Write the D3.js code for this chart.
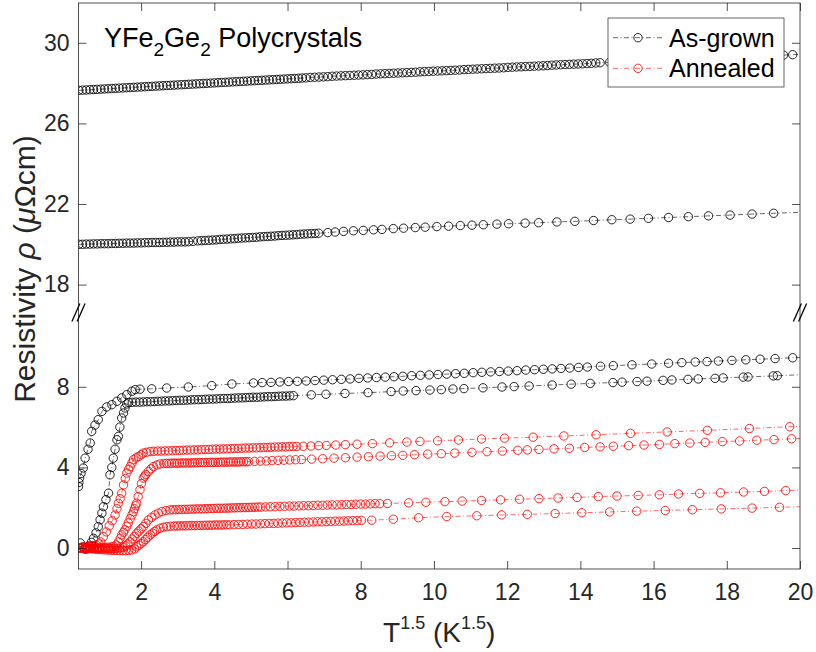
<!DOCTYPE html>
<html>
<head>
<meta charset="utf-8">
<script src="https://cdn.jsdelivr.net/npm/d3@7"></script>
<style>
  body { margin: 0; background: #fff; }
  svg { font-family: "Liberation Sans", Arial, Helvetica, sans-serif; }
</style>
</head>
<body>
<script>
//----------------- Data (x = T^1.5, y = resistivity) -----------------

const xTicks = [2, 4, 6, 8, 10, 12, 14, 16, 18, 20];
const yTicksLow = [0, 4, 8];
const yTicksHigh = [18, 22, 26, 30];

// as-grown, upper part of the broken axis
const asGrownTop = [
  [0.3,27.64],[0.4,27.65],[0.5,27.66],[0.6,27.67],[0.7,27.68],[0.8,27.69],[0.9,27.70],[1.0,27.71],[1.1,27.72],[1.2,27.73],
  [1.3,27.74],[1.4,27.75],[1.5,27.76],[1.6,27.77],[1.7,27.78],[1.8,27.79],[1.9,27.80],[2.0,27.81],[2.1,27.82],[2.2,27.83],
  [2.3,27.84],[2.4,27.85],[2.5,27.86],[2.6,27.87],[2.7,27.88],[2.8,27.89],[2.9,27.90],[3.0,27.91],[3.1,27.92],[3.2,27.93],
  [3.3,27.94],[3.4,27.95],[3.5,27.96],[3.6,27.97],[3.7,27.98],[3.8,27.99],[3.9,28.00],[4.0,28.01],[4.1,28.02],[4.2,28.03],
  [4.3,28.04],[4.4,28.05],[4.5,28.06],[4.6,28.07],[4.7,28.08],[4.8,28.09],[4.9,28.10],[5.0,28.11],[5.1,28.12],[5.2,28.13],
  [5.3,28.14],[5.4,28.15],[5.5,28.16],[5.6,28.17],[5.7,28.18],[5.8,28.19],[5.9,28.20],[6.0,28.21],[6.1,28.22],[6.2,28.23],
  [6.3,28.24],[6.4,28.25],[6.5,28.26],
  [6.62,28.28],[6.74,28.29],[6.86,28.30],[6.98,28.31],[7.10,28.32],[7.22,28.34],[7.34,28.35],[7.46,28.36],[7.58,28.37],[7.70,28.38],
  [7.82,28.39],[7.94,28.40],[8.06,28.41],[8.18,28.42],[8.30,28.43],[8.42,28.45],[8.54,28.46],[8.66,28.47],[8.78,28.48],[8.90,28.49],
  [9.02,28.50],[9.14,28.51],[9.26,28.52],[9.38,28.53],[9.50,28.54],[9.62,28.56],[9.74,28.57],[9.86,28.58],[9.98,28.59],[10.10,28.60],
  [10.22,28.61],[10.34,28.62],[10.46,28.63],[10.58,28.64],[10.70,28.65],[10.82,28.67],[10.94,28.68],[11.06,28.69],[11.18,28.70],[11.30,28.71],
  [11.42,28.72],[11.54,28.73],[11.66,28.74],[11.78,28.75],[11.90,28.76],[12.02,28.78],[12.14,28.79],[12.26,28.80],[12.38,28.81],[12.50,28.82],
  [12.62,28.83],[12.74,28.84],[12.86,28.85],[12.98,28.86],[13.10,28.87],[13.22,28.89],[13.34,28.90],[13.46,28.91],[13.58,28.92],[13.70,28.93],
  [13.82,28.94],[13.94,28.95],[14.06,28.96],[14.18,28.97],[14.30,28.98],[14.42,29.00],[14.54,29.01],
  [14.8,29.03],[15.3,29.07],[15.8,29.11],[16.3,29.15],[16.8,29.18],[17.3,29.22],[17.8,29.26],[18.3,29.30],[18.8,29.33],[19.3,29.37],
  [19.55,29.39],[19.8,29.41],[20.4,29.45]
];

const asGrownUpper = [
  [0.3,20.00],[0.4,20.00],[0.5,20.01],[0.6,20.01],[0.7,20.02],[0.8,20.02],[0.9,20.03],[1.0,20.03],[1.1,20.03],[1.2,20.04],
  [1.3,20.04],[1.4,20.05],[1.5,20.05],[1.6,20.06],[1.7,20.06],[1.8,20.06],[1.9,20.07],[2.0,20.07],[2.1,20.08],[2.2,20.08],
  [2.3,20.09],[2.4,20.09],[2.5,20.09],[2.6,20.10],[2.7,20.10],[2.8,20.11],[2.9,20.11],[3.0,20.12],[3.1,20.12],[3.2,20.12],
  [3.3,20.13],[3.42,20.15],[3.55,20.17],
  [3.65,20.18],[3.75,20.19],[3.85,20.20],[3.95,20.21],[4.05,20.22],[4.15,20.24],[4.25,20.25],[4.35,20.26],[4.45,20.27],[4.55,20.28],
  [4.65,20.30],[4.75,20.31],[4.85,20.32],[4.95,20.33],[5.05,20.34],[5.15,20.35],[5.25,20.37],[5.35,20.38],[5.45,20.39],[5.55,20.40],
  [5.65,20.41],[5.75,20.43],[5.85,20.44],[5.95,20.45],[6.05,20.46],[6.15,20.47],[6.25,20.48],[6.35,20.50],[6.45,20.51],[6.55,20.52],
  [6.65,20.53],[6.75,20.54],[6.85,20.55],
  [7.1,20.58],[7.3,20.61],[7.53,20.64],[7.80,20.67],[8.07,20.69],[8.35,20.72],[8.58,20.74],[8.89,20.78],[9.17,20.80],[9.49,20.83],
  [9.76,20.85],[10.08,20.88],[10.40,20.90],[10.72,20.93],[11.04,20.95],[11.35,20.97],[11.72,21.00],[12.04,21.02],[12.49,21.05],[12.86,21.07],
  [13.36,21.11],[13.85,21.14],[14.36,21.18],[14.86,21.22],[15.36,21.25],[15.86,21.29],[16.41,21.33],[16.95,21.37],[17.50,21.41],[18.09,21.45],
  [18.69,21.50],[19.28,21.54],[20.5,21.62]
];

// as-grown, lower part of the broken axis
const asGrownLowA = [
  [0.29,3.05],[0.30,3.25],[0.32,3.47],[0.36,3.70],[0.42,3.97],[0.47,4.46],[0.55,4.90],[0.61,5.21],[0.65,5.79],[0.74,6.10],
  [0.83,6.37],[0.93,6.78],[1.06,7.00],[1.20,7.11],[1.34,7.28],[1.47,7.45],[1.61,7.61],[1.75,7.78],[1.84,7.86],[1.97,7.88],
  [2.29,7.90],[2.70,7.94],[3.29,7.99],[3.93,8.06],[4.48,8.14],
  [5.07,8.19],[5.31,8.21],[5.55,8.22],[5.79,8.24],[6.03,8.26],[6.27,8.27],[6.51,8.29],[6.75,8.31],[6.99,8.33],[7.23,8.35],
  [7.47,8.37],[7.71,8.39],[7.95,8.42],[8.19,8.44],[8.43,8.46],[8.67,8.48],[8.91,8.50],[9.15,8.52],[9.39,8.55],[9.63,8.57],
  [9.87,8.59],[10.11,8.61],[10.35,8.63],[10.59,8.65],[10.83,8.67],[11.07,8.70],[11.31,8.72],[11.55,8.74],[11.79,8.76],[12.03,8.78],
  [12.27,8.80],[12.51,8.83],[12.75,8.85],[12.99,8.87],[13.23,8.89],[13.47,8.91],[13.71,8.93],[13.95,8.96],[14.19,8.98],
  [14.55,9.02],[14.9,9.05],[15.41,9.09],[15.95,9.13],[16.41,9.17],[16.77,9.20],[17.14,9.23],[17.46,9.25],[17.77,9.28],[18.14,9.31],
  [18.52,9.34],[18.91,9.37],[19.32,9.40],[19.8,9.44],[20.3,9.48]
];

const asGrownLowB = [
  [0.34,0.25],[0.40,0.05],[0.46,-0.05],[0.52,-0.05],[0.58,0.10],[0.64,0.28],[0.70,0.48],[0.77,0.75],[0.83,1.06],[0.88,1.40],
  [0.93,1.73],[0.97,2.05],[1.04,2.40],[1.11,2.72],[1.15,3.63],[1.20,4.00],[1.24,4.46],[1.29,4.90],[1.34,5.37],[1.38,5.54],
  [1.42,6.00],[1.47,6.45],[1.52,6.70],[1.56,6.95],[1.61,7.15],
  [1.66,7.22],[1.76,7.23],[1.86,7.24],[1.96,7.24],[2.06,7.25],[2.16,7.26],[2.26,7.26],[2.36,7.27],[2.46,7.28],[2.56,7.29],
  [2.66,7.30],[2.76,7.30],[2.86,7.31],[2.96,7.32],[3.06,7.33],[3.16,7.33],[3.26,7.34],[3.36,7.35],[3.46,7.36],[3.56,7.36],
  [3.66,7.37],[3.76,7.38],[3.86,7.39],[3.96,7.39],[4.06,7.40],[4.16,7.41],[4.26,7.42],[4.36,7.42],[4.46,7.43],[4.56,7.44],
  [4.66,7.45],[4.76,7.45],[4.86,7.46],[4.96,7.47],[5.06,7.48],[5.16,7.48],[5.26,7.49],[5.36,7.50],[5.46,7.51],[5.56,7.51],
  [5.66,7.52],[5.76,7.53],[5.86,7.54],[5.96,7.54],[6.06,7.55],[6.16,7.56],
  [6.65,7.60],[7.05,7.63],[7.57,7.67],[8.2,7.71],[8.83,7.76],[9.16,7.79],[9.51,7.81],[9.89,7.84],[10.2,7.86],[10.52,7.89],
  [10.82,7.91],[11.34,7.95],[11.86,7.99],[12.19,8.01],[12.6,8.04],[13.23,8.09],[13.75,8.13],[14.27,8.17],[14.89,8.21],[15.14,8.23],
  [15.55,8.26],[15.82,8.28],[16.26,8.32],[16.5,8.34],[16.94,8.37],[17.22,8.39],[17.68,8.42],[17.9,8.44],[18.45,8.48],[18.58,8.49],
  [19.27,8.54],[19.38,8.55],[20.4,8.63]
];

// annealed
const annealedA = [
  [0.30,0.02],[0.36,0.03],[0.42,0.04],[0.48,0.05],[0.54,0.06],[0.60,0.08],[0.66,0.10],[0.72,0.12],[0.78,0.15],[0.84,0.20],
  [0.90,0.30],[0.97,0.56],[1.05,0.80],[1.13,1.10],[1.21,1.35],[1.29,1.64],[1.34,1.95],[1.38,2.22],[1.43,2.45],[1.47,2.72],
  [1.52,3.13],[1.57,3.45],[1.61,3.72],[1.66,3.90],[1.70,4.04],[1.75,4.22],[1.79,4.38],[1.86,4.47],[1.93,4.54],[2.00,4.63],
  [2.06,4.71],[2.15,4.75],[2.25,4.79],
  [2.35,4.80],[2.45,4.81],[2.55,4.81],[2.65,4.82],[2.75,4.82],[2.85,4.83],[2.95,4.84],[3.05,4.84],[3.15,4.85],[3.25,4.86],
  [3.35,4.86],[3.45,4.87],[3.55,4.87],[3.65,4.88],[3.75,4.89],[3.85,4.89],[3.95,4.90],[4.05,4.91],[4.15,4.91],[4.25,4.92],
  [4.35,4.92],[4.45,4.93],[4.55,4.94],[4.65,4.94],[4.75,4.95],[4.85,4.96],[4.95,4.96],[5.05,4.97],[5.15,4.97],[5.25,4.98],
  [5.35,4.99],[5.45,4.99],[5.55,5.00],[5.65,5.01],[5.75,5.01],[5.85,5.02],[5.95,5.02],[6.05,5.03],[6.15,5.04],[6.25,5.04],
  [6.43,5.05],[6.64,5.06],[6.85,5.08],[7.06,5.09],[7.32,5.11],[7.58,5.13],[7.9,5.15],[8.32,5.18],[8.79,5.22],[9.26,5.26],
  [9.62,5.29],[10.1,5.32],[10.67,5.36],[11.3,5.41],[11.93,5.45],[12.71,5.50],[13.55,5.56],[14.43,5.62],[15.37,5.69],[16.37,5.76],
  [17.47,5.84],[18.62,5.93],[19.72,6.02],[20.8,6.10]
];

const annealedB = [
  [0.30,0.00],[0.38,0.00],[0.46,0.01],[0.54,0.01],[0.62,0.01],[0.70,0.02],[0.78,0.02],[0.86,0.02],[0.94,0.03],[1.02,0.03],
  [1.10,0.04],[1.18,0.05],[1.25,0.08],[1.32,0.15],[1.38,0.30],[1.43,0.48],[1.47,0.65],[1.52,0.78],[1.56,0.90],[1.61,1.08],
  [1.65,1.25],[1.70,1.45],[1.75,1.64],[1.79,1.80],[1.82,1.95],[1.85,2.10],[1.88,2.22],[1.92,2.55],[1.97,2.89],[2.01,3.20],
  [2.06,3.47],[2.10,3.57],[2.13,3.65],[2.20,3.80],[2.27,3.93],[2.34,4.04],[2.43,4.12],[2.52,4.17],[2.62,4.19],
  [2.70,4.20],[2.77,4.20],[2.84,4.21],[2.91,4.21],[2.98,4.21],[3.05,4.21],[3.12,4.22],[3.19,4.22],[3.26,4.22],[3.33,4.22],
  [3.40,4.23],[3.47,4.23],[3.54,4.23],[3.61,4.24],[3.68,4.24],[3.75,4.24],[3.82,4.24],[3.89,4.25],[3.96,4.25],[4.03,4.25],
  [4.10,4.25],[4.17,4.26],[4.24,4.26],[4.31,4.26],[4.38,4.26],[4.45,4.27],[4.52,4.27],[4.59,4.27],[4.66,4.27],[4.73,4.28],
  [4.80,4.28],[4.87,4.28],[4.94,4.29],
  [5.10,4.30],[5.26,4.31],[5.42,4.32],[5.58,4.34],[5.74,4.35],[5.90,4.36],[6.06,4.37],[6.22,4.38],
  [6.38,4.39],[6.66,4.41],[6.96,4.43],[7.27,4.46],[7.58,4.48],[7.9,4.51],[8.21,4.53],[8.53,4.56],[8.84,4.58],[9.15,4.60],
  [9.47,4.63],[9.83,4.66],[10.2,4.68],[10.57,4.71],[11.04,4.75],[11.45,4.78],[11.87,4.81],[12.29,4.85],[12.55,4.87],[12.87,4.89],
  [13.28,4.92],[13.7,4.95],[14.12,4.99],[14.54,5.02],[14.9,5.05],[15.32,5.08],[15.74,5.11],[16.16,5.14],[16.58,5.18],[16.99,5.21],
  [17.41,5.24],[17.88,5.28],[18.35,5.31],[18.82,5.35],[19.29,5.38],[19.77,5.42],[20.3,5.46]
];

const annealedC = [
  [0.30,0.00],[0.38,-0.01],[0.46,-0.01],[0.54,-0.02],[0.62,-0.02],[0.70,-0.02],[0.78,-0.03],[0.86,-0.03],[0.94,-0.03],[1.02,-0.03],
  [1.10,-0.03],[1.18,-0.03],[1.26,-0.02],[1.34,-0.01],[1.42,0.00],[1.50,0.04],[1.58,0.10],[1.64,0.20],[1.70,0.31],[1.76,0.45],
  [1.82,0.58],[1.88,0.73],[1.94,0.84],[2.00,0.95],[2.06,1.06],[2.13,1.22],[2.20,1.39],[2.29,1.52],[2.38,1.64],[2.47,1.73],
  [2.57,1.81],[2.68,1.86],[2.79,1.89],
  [2.87,1.90],[2.95,1.90],[3.03,1.91],[3.11,1.91],[3.19,1.92],[3.27,1.92],[3.35,1.93],[3.43,1.93],[3.51,1.94],[3.59,1.94],
  [3.67,1.94],[3.75,1.95],[3.83,1.95],[3.91,1.96],[3.99,1.96],[4.07,1.97],[4.15,1.97],[4.23,1.97],[4.31,1.98],[4.39,1.98],
  [4.47,1.99],[4.55,1.99],[4.63,2.00],[4.71,2.00],[4.79,2.01],[4.87,2.01],[4.95,2.01],[5.03,2.02],[5.11,2.02],[5.19,2.03],[5.27,2.03],
  [5.40,2.04],[5.53,2.05],[5.66,2.05],[5.79,2.06],[5.92,2.07],[6.05,2.08],[6.18,2.08],[6.31,2.09],[6.44,2.10],[6.57,2.10],
  [6.70,2.11],[6.83,2.12],[6.96,2.12],[7.09,2.13],[7.22,2.14],[7.35,2.14],[7.48,2.15],[7.61,2.16],[7.74,2.16],[7.87,2.17],
  [8.00,2.18],[8.13,2.18],[8.26,2.19],[8.39,2.20],[8.52,2.20],
  [8.73,2.21],[9.31,2.24],[9.78,2.27],[10.3,2.30],[10.77,2.33],[11.3,2.36],[11.82,2.39],[12.34,2.42],[12.87,2.45],[13.39,2.48],
  [13.91,2.51],[14.49,2.55],[15.0,2.58],[15.58,2.61],[16.16,2.64],[16.68,2.68],[17.26,2.71],[17.83,2.74],[18.46,2.78],[19.03,2.81],
  [19.61,2.85],[20.2,2.88]
];

const annealedD = [
  [0.30,0.00],[0.38,-0.01],[0.46,-0.02],[0.54,-0.03],[0.62,-0.04],[0.70,-0.05],[0.78,-0.06],[0.86,-0.07],[0.94,-0.08],[1.02,-0.09],
  [1.10,-0.10],[1.18,-0.11],[1.26,-0.12],[1.34,-0.12],[1.42,-0.13],[1.50,-0.13],[1.58,-0.13],[1.66,-0.12],[1.74,-0.10],[1.82,-0.05],
  [1.88,0.06],[1.94,0.14],[2.00,0.22],[2.06,0.31],[2.12,0.42],[2.18,0.53],[2.25,0.65],[2.31,0.74],[2.37,0.82],[2.43,0.90],
  [2.52,0.98],[2.61,1.03],[2.70,1.06],[2.80,1.08],
  [2.90,1.09],[2.98,1.09],[3.06,1.10],[3.14,1.10],[3.22,1.10],[3.30,1.11],[3.38,1.11],[3.46,1.11],[3.54,1.12],[3.62,1.12],
  [3.70,1.12],[3.78,1.13],[3.86,1.13],[3.94,1.13],[4.02,1.14],[4.10,1.14],[4.18,1.14],[4.26,1.15],[4.34,1.15],[4.42,1.15],
  [4.54,1.16],[4.66,1.17],[4.78,1.17],[4.90,1.18],[5.02,1.19],[5.14,1.19],[5.26,1.20],[5.38,1.21],[5.50,1.22],[5.62,1.22],
  [5.74,1.23],[5.86,1.24],[5.98,1.25],[6.10,1.25],[6.22,1.26],[6.34,1.27],[6.46,1.28],[6.58,1.28],[6.70,1.29],[6.82,1.30],
  [6.94,1.30],[7.06,1.31],[7.18,1.32],[7.30,1.33],[7.42,1.33],[7.54,1.34],[7.66,1.35],[7.78,1.36],[7.90,1.36],[8.02,1.37],
  [8.3,1.38],[8.89,1.43],[9.58,1.50],[10.35,1.56],[11.17,1.60],[11.85,1.64],[12.55,1.67],[13.31,1.71],[14.04,1.75],[14.8,1.79],
  [15.54,1.83],[16.32,1.86],[17.06,1.90],[17.85,1.94],[18.69,1.98],[19.44,2.02],[20.2,2.06]
];

const legendLabels = ["As-grown", "Annealed"];

//----------------- Layout -----------------

const width = 816;
const height = 652;
const plot = { left: 78.5, right: 800, top: 3, bottom: 569 };

const svg = d3.select("body").append("svg").attr("width", width).attr("height", height);

const x = d3.scaleLinear().domain([0.29, 20]).range([plot.left, plot.right]);
// broken y axis: two scales with the same pixels per unit
const yLow = d3.scaleLinear().domain([0, 8]).range([548, 386.8]);
const yHigh = d3.scaleLinear().domain([18, 30]).range([284.6, 42.8]);

const series = [
  { data: asGrownTop, color: "#000", y: yHigh },
  { data: asGrownUpper, color: "#000", y: yHigh },
  { data: asGrownLowA, color: "#000", y: yLow },
  { data: asGrownLowB, color: "#000", y: yLow },
  { data: annealedA, color: "#ff0000", y: yLow },
  { data: annealedB, color: "#ff0000", y: yLow },
  { data: annealedC, color: "#ff0000", y: yLow },
  { data: annealedD, color: "#ff0000", y: yLow }
];

svg.append("clipPath").attr("id", "plot-clip")
  .append("rect")
  .attr("x", plot.left).attr("y", plot.top)
  .attr("width", plot.right - plot.left).attr("height", plot.bottom - plot.top);

//----------------- Series -----------------

const dashDot = "5,2.5,1,2.5";
const dataLayer = svg.append("g").attr("clip-path", "url(#plot-clip)");

series.forEach((s) => {
  const line = d3.line().x((d) => x(d[0])).y((d) => s.y(d[1]));
  const g = dataLayer.append("g");
  g.append("path")
    .attr("d", line(s.data))
    .attr("fill", "none")
    .attr("stroke", s.color)
    .attr("stroke-width", 0.6)
    .attr("stroke-dasharray", dashDot);
  g.selectAll("circle")
    .data(s.data)
    .enter()
    .append("circle")
    .attr("cx", (d) => x(d[0]))
    .attr("cy", (d) => s.y(d[1]))
    .attr("r", 4.2)
    .attr("fill", "none")
    .attr("stroke", s.color)
    .attr("stroke-width", 0.85);
});

//----------------- Axes -----------------

const axisColor = "#262626";

svg.append("g")
  .attr("transform", `translate(0,${plot.bottom})`)
  .call(d3.axisBottom(x).tickValues(xTicks).tickSize(-8).tickPadding(15).tickFormat(d3.format("d")));
svg.append("g")
  .attr("transform", `translate(0,${plot.top})`)
  .call(d3.axisTop(x).tickValues(xTicks).tickSize(-8).tickFormat(""));

[yLow, yHigh].forEach((sc, i) => {
  const ticks = i === 0 ? yTicksLow : yTicksHigh;
  svg.append("g")
    .attr("transform", `translate(${plot.left},0)`)
    .call(d3.axisLeft(sc).tickValues(ticks).tickSize(-8).tickPadding(9));
  svg.append("g")
    .attr("transform", `translate(${plot.right},0)`)
    .call(d3.axisRight(sc).tickValues(ticks).tickSize(-8).tickFormat(""));
});

svg.selectAll(".domain").remove();
svg.selectAll(".tick line").attr("stroke", axisColor).attr("stroke-width", 0.8);
svg.selectAll(".tick text").attr("fill", axisColor).style("font-size", "23px");

svg.append("rect")
  .attr("x", plot.left).attr("y", plot.top)
  .attr("width", plot.right - plot.left).attr("height", plot.bottom - plot.top)
  .attr("fill", "none").attr("stroke", axisColor).attr("stroke-width", 0.8);

// break marks on both y axes
const breakY = 312.5;
[plot.left, plot.right].forEach((ax) => {
  [-2.6, 2.6].forEach((off) => {
    svg.append("line")
      .attr("x1", ax + off - 4).attr("y1", breakY + 9)
      .attr("x2", ax + off + 4).attr("y2", breakY - 9)
      .attr("stroke", "#000").attr("stroke-width", 1.3);
  });
});

//----------------- Labels -----------------

const xLabel = svg.append("text")
  .attr("x", (plot.left + plot.right) / 2)
  .attr("y", 642)
  .attr("text-anchor", "middle")
  .attr("fill", axisColor)
  .style("font-size", "28px");
xLabel.append("tspan").text("T");
xLabel.append("tspan").attr("dy", -13).style("font-size", "18px").text("1.5");
xLabel.append("tspan").attr("dy", 13).text(" (K");
xLabel.append("tspan").attr("dy", -13).style("font-size", "18px").text("1.5");
xLabel.append("tspan").attr("dy", 13).text(")");

const yLabel = svg.append("text")
  .attr("transform", "translate(35,269) rotate(-90)")
  .attr("text-anchor", "middle")
  .attr("fill", axisColor)
  .style("font-size", "30px");
yLabel.append("tspan").text("Resistivity ");
yLabel.append("tspan").style("font-style", "italic").text("ρ");
yLabel.append("tspan").text(" (");
yLabel.append("tspan").style("font-style", "italic").text("μ");
yLabel.append("tspan").text("Ωcm)");

const title = svg.append("text")
  .attr("x", 104)
  .attr("y", 47)
  .attr("fill", "#000")
  .style("font-size", "27px");
title.append("tspan").text("YFe");
title.append("tspan").attr("dy", 9).style("font-size", "19px").text("2");
title.append("tspan").attr("dy", -9).text("Ge");
title.append("tspan").attr("dy", 9).style("font-size", "19px").text("2");
title.append("tspan").attr("dy", -9).text(" Polycrystals");

//----------------- Legend -----------------

const legend = svg.append("g").attr("id", "legend");
legend.append("rect")
  .attr("x", 608).attr("y", 18)
  .attr("width", 176).attr("height", 69)
  .attr("fill", "#fff").attr("stroke", axisColor).attr("stroke-width", 0.7);

legendLabels.forEach((label, i) => {
  const cy = 37.7 + i * 30.6;
  const color = i === 0 ? "#000" : "#ff0000";
  legend.append("line")
    .attr("x1", 613).attr("x2", 663).attr("y1", cy).attr("y2", cy)
    .attr("stroke", color).attr("stroke-width", 0.6).attr("stroke-dasharray", dashDot);
  legend.append("circle")
    .attr("cx", 638).attr("cy", cy).attr("r", 4.2)
    .attr("fill", "none").attr("stroke", color).attr("stroke-width", 0.85);
  legend.append("text")
    .attr("x", 669).attr("y", cy + 9)
    .attr("fill", "#000")
    .style("font-size", "25px")
    .text(label);
});
</script>
</body>
</html>
